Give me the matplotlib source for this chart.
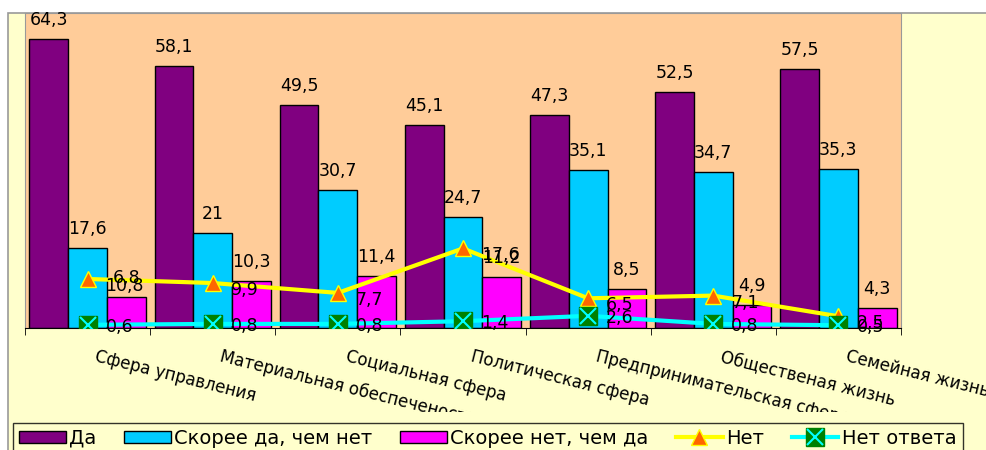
import matplotlib.pyplot as plt
from matplotlib.patches import Rectangle, Patch
from matplotlib.lines import Line2D
from matplotlib.transforms import Bbox, TransformedBbox
import numpy as np

# данные
categories = ["Сфера управления", "Материальная обеспеченость", "Социальная сфера",
              "Политическая сфера", "Предпринимательская сфера", "Общественая жизнь",
              "Семейная жизнь"]
da = [64.3, 58.1, 49.5, 45.1, 47.3, 52.5, 57.5]
skoree_da = [17.6, 21, 30.7, 24.7, 35.1, 34.7, 35.3]
skoree_net = [6.8, 10.3, 11.4, 11.2, 8.5, 4.9, 4.3]
net = [10.8, 9.9, 7.7, 17.6, 6.5, 7.1, 2.5]
net_otveta = [0.6, 0.8, 0.8, 1.4, 2.6, 0.8, 0.5]


def fmt(v):
    return ("%g" % v).replace(".", ",")


fig = plt.figure(figsize=(9.86, 4.5), dpi=100)
fig.patch.set_facecolor("white")

# фон области диаграммы
fig.patches.append(Rectangle((8 / 986, -0.1), 1.2, 1 - 13 / 450 + 0.1,
                             transform=fig.transFigure, facecolor="#FFFFCC",
                             edgecolor="#999999", linewidth=1.2, zorder=-5))

ax = fig.add_axes([25 / 986, 1 - 327.5 / 450, (901 - 25) / 986, (327.5 - 13) / 450])
ax.set_facecolor("#FFCC99")
ax.set_xlim(-0.5, 6.5)
ax.set_ylim(0, 70)

x = np.arange(len(categories))
w = 0.31
series = [(da, "#800080", "Да"), (skoree_da, "#00CCFF", "Скорее да, чем нет"),
          (skoree_net, "#FF00FF", "Скорее нет, чем да")]
for k, (vals, col, lab) in enumerate(series):
    xs = x + (k - 1) * w
    ax.bar(xs, vals, w, color=col, edgecolor="black", linewidth=1, zorder=2)
    for xi, v in zip(xs, vals):
        ax.annotate(fmt(v), (xi, v), xytext=(0, 10), textcoords="offset pixels",
                    ha="center", va="bottom", fontsize=12.5, zorder=6)

# линии
ax.plot(x, net, color="#FFFF00", linewidth=3, marker="^", markersize=11,
        markerfacecolor="#FF6600", markeredgecolor="#FFFF00", markeredgewidth=1, zorder=4)
ax.plot(x, net_otveta, color="#00FFFF", linewidth=3, marker="s", markersize=13,
        markerfacecolor="#008000", markeredgecolor="#008000", zorder=4)
ax.plot(x, net_otveta, linestyle="none", marker="x", markersize=12,
        markeredgecolor="#00FFFF", markeredgewidth=1.5, zorder=5)
for xi, v in zip(x, net):
    ax.annotate(fmt(v), (xi, v), xytext=(18, -7), textcoords="offset pixels",
                ha="left", va="center", fontsize=12.5, zorder=6)
for xi, v in zip(x, net_otveta):
    ax.annotate(fmt(v), (xi, v), xytext=(18, -2), textcoords="offset pixels",
                ha="left", va="center", fontsize=12.5, zorder=6)

# оси
ax.set_yticks([])
ax.set_xticks(x)
ax.set_xticklabels([])
ax.tick_params(axis="x", which="major", length=0)
ax.set_xticks(np.arange(-0.5, 7, 1), minor=True)
ax.tick_params(axis="x", which="minor", length=5, color="black")
for s in ["left", "right", "top"]:
    ax.spines[s].set_color("#999999")
ax.spines["bottom"].set_color("black")

clip = TransformedBbox(Bbox([[0, 1 - 412 / 450], [1, 1]]), fig.transFigure)
for xi, lab in zip(x, categories):
    t = ax.annotate(lab, (xi, 0), xytext=(10, -20), textcoords="offset pixels",
                    ha="left", va="top", rotation=-14, rotation_mode="anchor",
                    fontsize=12, annotation_clip=False)
    t.set_clip_on(True)
    t.set_clip_box(clip)

handles = [Patch(facecolor=c, edgecolor="black", label=l) for _, c, l in series]
handles.append(Line2D([], [], color="#FFFF00", linewidth=3, marker="^", markersize=11,
                      markerfacecolor="#FF6600", markeredgecolor="#FFFF00"))
handles.append((Line2D([], [], color="#00FFFF", linewidth=3, marker="s", markersize=13,
                       markerfacecolor="#008000", markeredgecolor="#008000"),
                Line2D([], [], linestyle="none", marker="x", markersize=12,
                       markeredgecolor="#00FFFF", markeredgewidth=1.5)))
labels = [l for _, _, l in series] + ["Нет", "Нет ответа"]
leg = fig.legend(handles, labels, loc="upper left", bbox_to_anchor=(13 / 986, 1 - 423 / 450),
                 ncol=5, fontsize=14, frameon=True, fancybox=False, borderpad=0.3,
                 handlelength=2.4, handleheight=0.55, handletextpad=0.2,
                 columnspacing=1.4, borderaxespad=0)
leg.get_frame().set_edgecolor("black")
leg.get_frame().set_facecolor("#FFFFCC")
leg.get_frame().set_linewidth(1)

fig.savefig("out.png", dpi=100)
